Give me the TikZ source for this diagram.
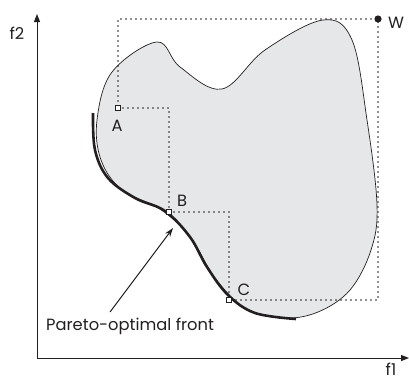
\documentclass[tikz,border=0pt]{standalone}
\usepackage{fontspec}
\setmainfont{Poppins}
\usetikzlibrary{arrows.meta}
\definecolor{blobgray}{HTML}{E6E7E9}
\definecolor{ink}{HTML}{231F20}
\tikzset{
  axis/.style={line width=1pt, draw=ink, -{Triangle[length=8pt,width=6pt]}},
  blob/.style={fill=blobgray, draw=ink, line width=0.7pt},
  front/.style={draw=ink, line width=2.6pt},
  dots/.style={draw=ink, line width=1.8pt, dash pattern=on 0pt off 5pt, line cap=round},
  pt/.style={draw=ink, fill=white, line width=0.6pt, minimum size=5pt, inner sep=0pt, rectangle},
  lbl/.style={font=\fontsize{16.3}{19}\selectfont, text=ink, inner sep=0pt},
  pointer/.style={draw=ink, line width=1pt, -{Stealth[length=9pt,width=6pt]}},
}
\begin{document}
\begin{tikzpicture}[x=1pt,y=-1pt]
\useasboundingbox (0,0) rectangle (409,381);
% blob
\draw[blob] plot[smooth cycle, tension=0.6] coordinates {
 (157,42) (180,67) (222,89) (265,50) (323,20) (352,40) (367,120) (377,205)
 (371,250) (350,290) (318,312) (283,318) (245,308) (215,278) (190,237)
 (160,209) (122,190) (101,160) (97,120) (112,72)};
% pareto front
\draw[front] plot[smooth, tension=0.6] coordinates {
 (93,113) (95,150) (108,178) (135,198) (165,211) (190,237) (207,267)
 (228,295) (255,313) (296,319)};
% named points
\coordinate (A) at (118,108);
\coordinate (B) at (169,212);
\coordinate (C) at (229,300);
\coordinate (W) at (378,19);
\coordinate (AB) at (169,108);
\coordinate (BC) at (229,212);
\coordinate (CW) at (378,300);
\coordinate (AW) at (118,19);
\draw[dots] (A) -- (AB) -- (B) -- (BC) -- (C) -- (CW) -- (W) -- (AW) -- (A);
\node[pt] (pA) at (A) {};
\node[pt] (pB) at (B) {};
\node[pt] (pC) at (C) {};
\fill[ink] (W) circle (3.6pt);
\node[lbl] (lA) at (117,126) {A};
\node[lbl] (lB) at (182,201) {B};
\node[lbl] (lC) at (244,290) {C};
\node[lbl] (lW) at (396,23) {W};
% axes
\coordinate (O) at (37,358);
\coordinate (Ytip) at (37,14);
\coordinate (Xtip) at (409,358);
\draw[axis] (O) -- (Ytip);
\draw[axis] (O) -- (Xtip);
\node[lbl] (f2) at (17,33) {f2};
\node[lbl] (f1) at (391,369) {f1};
% annotation
\node[lbl, anchor=west] (pf) at (46,326) {Pareto-optimal front};
\coordinate (tail) at (110,312);
\coordinate (tip) at (173,228);
\draw[pointer] (tail) -- (tip);
\end{tikzpicture}
\end{document}
